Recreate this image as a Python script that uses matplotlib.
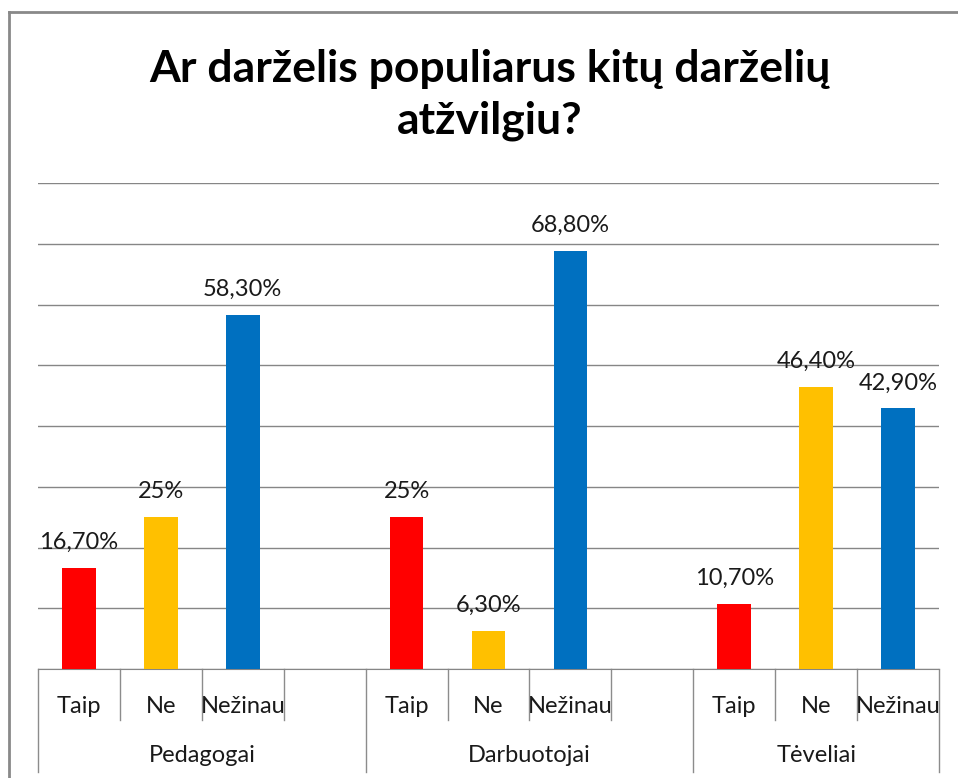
import matplotlib.pyplot as plt
from matplotlib.transforms import blended_transform_factory

plt.rcParams['font.family'] = ['Lato', 'DejaVu Sans']

title = "Ar darželis populiarus kitų darželių\natžvilgiu?"
groups = ["Pedagogai", "Darbuotojai", "Tėveliai"]
answers = ["Taip", "Ne", "Nežinau"]
pedagogai = [16.7, 25, 58.3]
darbuotojai = [25, 6.3, 68.8]
teveliai = [10.7, 46.4, 42.9]
value_labels = [["16,70%", "25%", "58,30%"],
                ["25%", "6,30%", "68,80%"],
                ["10,70%", "46,40%", "42,90%"]]
colors = ["#FF0000", "#FFC000", "#0070C0"]

fig = plt.figure(figsize=(9.58, 7.78), dpi=100)
ax = fig.add_axes([38 / 958, 1 - 669 / 778, 901 / 958, 486 / 778])

# each group takes 4 slots (last one empty), the last group only 3
series = [pedagogai, darbuotojai, teveliai]
for g, vals in enumerate(series):
    for i, v in enumerate(vals):
        x = g * 4 + i
        ax.bar(x, v, width=0.41, color=colors[i], zorder=3)
        ax.text(x, v + 4.2, value_labels[g][i], ha="center", va="center",
                fontsize=17, color="#1a1a1a")

ax.set_xlim(-0.5, 10.5)
ax.set_ylim(0, 80)
ax.set_yticks(range(0, 81, 10))
ax.yaxis.grid(True, color="#868686", linewidth=1)
ax.tick_params(left=False, labelleft=False, bottom=False, labelbottom=False)
for s in ["left", "right", "top"]:
    ax.spines[s].set_visible(False)
ax.spines["bottom"].set_color("#868686")

# two-level category axis
trans = blended_transform_factory(ax.transData, ax.transAxes)
n_slots = 11
for k in range(n_slots + 1):
    xb = k - 0.5
    long_line = (k % 4 == 0) or k == n_slots
    y_end = -0.212 if long_line else -0.105
    ax.plot([xb, xb], [0, y_end], color="#8c8c8c", lw=1, transform=trans,
            clip_on=False)
for g in range(len(groups)):
    for i, a in enumerate(answers):
        ax.text(g * 4 + i, -0.077, a, transform=trans, ha="center",
                va="center", fontsize=17, color="#1a1a1a")
    n = 4 if g < 2 else 3
    ax.text(g * 4 + (n - 1) / 2, -0.177, groups[g], transform=trans,
            ha="center", va="center", fontsize=17, color="#1a1a1a")

fig.text(0.511, 1 - 95 / 778, title, ha="center", va="center",
         fontsize=32, fontweight="bold", linespacing=1.35)

# chart area border
fig.add_artist(plt.Line2D([9 / 958, 9 / 958], [0, 1 - 12 / 778],
                          color="#898989", lw=2))
fig.add_artist(plt.Line2D([9 / 958, 1], [1 - 12 / 778, 1 - 12 / 778],
                          color="#898989", lw=2))

fig.savefig("out.png", dpi=100)
